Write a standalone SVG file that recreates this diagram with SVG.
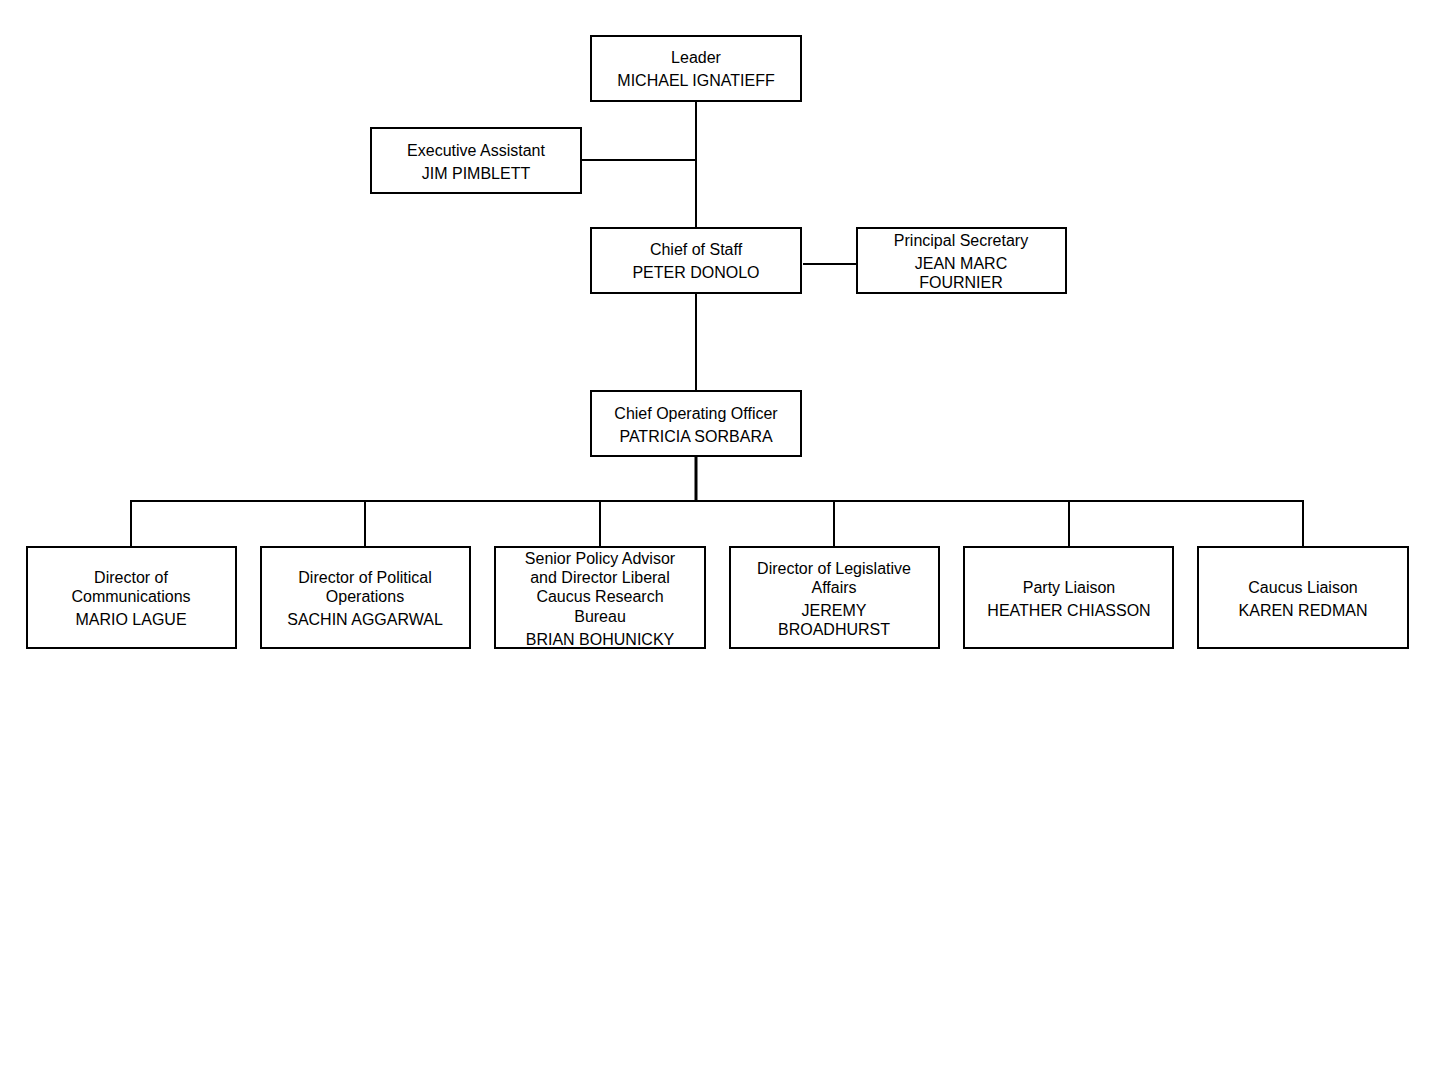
<svg xmlns="http://www.w3.org/2000/svg" width="1440" height="1080" viewBox="0 0 1440 1080">
<style>
.box{fill:#fff;stroke:#000;stroke-width:2}
.ln{stroke:#000;stroke-width:2;fill:none}
text{font-family:"Liberation Sans",Arial,sans-serif;font-size:16px;fill:#000;text-anchor:middle}
</style>
<rect width="1440" height="1080" fill="#fff"/>
<g id="connectors">
<path class="ln" d="M696 101V228M581 160H696M803 264H857M696 293V391"/>
<path class="ln" d="M696 456V501" style="stroke-width:3"/>
<path class="ln" d="M131 547V501H1303V547M365 501V547M600 501V547M834 501V547M1069 501V547"/>
</g>
<g id="leader"><rect class="box" x="591" y="36" width="210" height="65"/><text x="696" y="63">Leader</text><text x="696" y="86">MICHAEL IGNATIEFF</text></g>
<g id="exec"><rect class="box" x="371" y="128" width="210" height="65"/><text x="476" y="156">Executive Assistant</text><text x="476" y="179">JIM PIMBLETT</text></g>
<g id="cos"><rect class="box" x="591" y="228" width="210" height="65"/><text x="696" y="255">Chief of Staff</text><text x="696" y="278">PETER DONOLO</text></g>
<g id="ps"><rect class="box" x="857" y="228" width="209" height="65"/><text x="961" y="246">Principal Secretary</text><text x="961" y="269">JEAN MARC</text><text x="961" y="288">FOURNIER</text></g>
<g id="coo"><rect class="box" x="591" y="391" width="210" height="65"/><text x="696" y="419">Chief Operating Officer</text><text x="696" y="442">PATRICIA SORBARA</text></g>
<g id="comm"><rect class="box" x="27" y="547" width="209" height="101"/><text x="131" y="583">Director of</text><text x="131" y="602">Communications</text><text x="131" y="625">MARIO LAGUE</text></g>
<g id="polops"><rect class="box" x="261" y="547" width="209" height="101"/><text x="365" y="583">Director of Political</text><text x="365" y="602">Operations</text><text x="365" y="625">SACHIN AGGARWAL</text></g>
<g id="policy"><rect class="box" x="495" y="547" width="210" height="101"/><text x="600" y="564">Senior Policy Advisor</text><text x="600" y="583">and Director Liberal</text><text x="600" y="602">Caucus Research</text><text x="600" y="622">Bureau</text><text x="600" y="645">BRIAN BOHUNICKY</text></g>
<g id="legis"><rect class="box" x="730" y="547" width="209" height="101"/><text x="834" y="574">Director of Legislative</text><text x="834" y="593">Affairs</text><text x="834" y="616">JEREMY</text><text x="834" y="635">BROADHURST</text></g>
<g id="party"><rect class="box" x="964" y="547" width="209" height="101"/><text x="1069" y="593">Party Liaison</text><text x="1069" y="616">HEATHER CHIASSON</text></g>
<g id="caucus"><rect class="box" x="1198" y="547" width="210" height="101"/><text x="1303" y="593">Caucus Liaison</text><text x="1303" y="616">KAREN REDMAN</text></g>
</svg>
